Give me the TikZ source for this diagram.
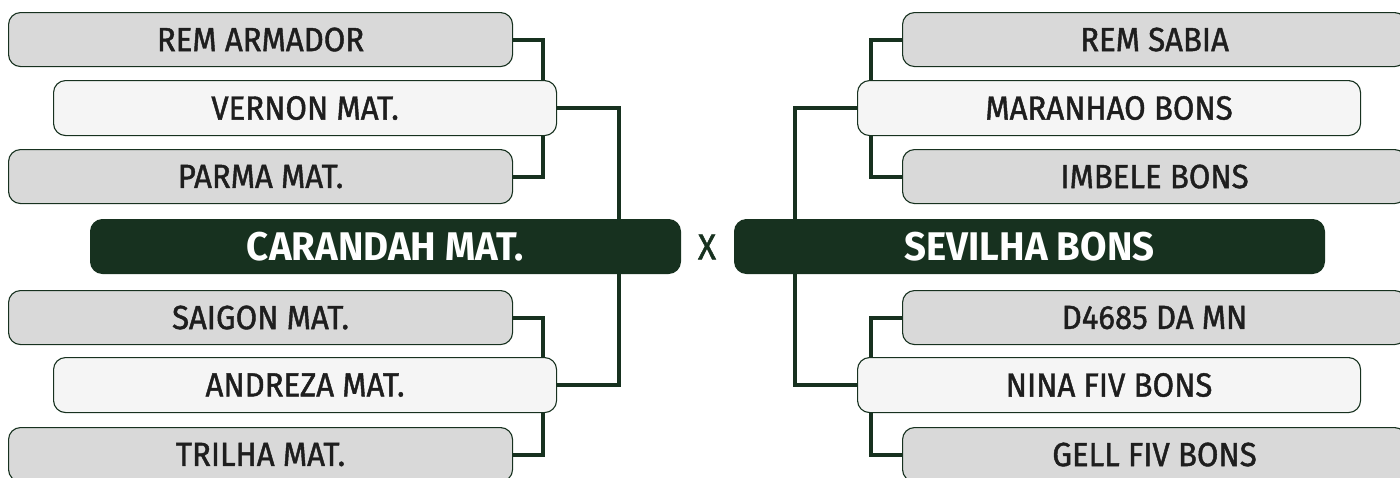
\documentclass[tikz,border=0pt]{standalone}
\usepackage{fontspec}
\setmainfont{Fira Sans}[FakeBold=1.3,FakeStretch=0.93]
\newfontfamily\boldff{Fira Sans}[FakeStretch=0.96]
\begin{document}
\definecolor{dg}{HTML}{17311F}
\definecolor{bgray}{HTML}{D9D9D9}
\definecolor{lgray}{HTML}{F5F5F5}
\definecolor{txt}{HTML}{1E1E1E}
\begin{tikzpicture}[x=1pt,y=-1pt,
  team/.style={draw=dg, line width=1.1pt, rounded corners=12pt, fill=bgray,
    minimum width=504pt, minimum height=54pt, anchor=north west, inner sep=0pt,
    text=txt, font=\fontsize{33.5}{34}\selectfont},
  semi/.style={team, fill=lgray, minimum width=503pt, minimum height=55pt},
  final/.style={draw=dg, line width=1pt, rounded corners=12pt, fill=dg, text=white,
    minimum width=590pt, minimum height=54pt, anchor=north west, inner sep=0pt,
    font=\boldff\bfseries\fontsize{40}{40}\selectfont},
  conn/.style={draw=dg, line width=4pt, line join=miter}]
\useasboundingbox (0,0) rectangle (1400,477);
\coordinate (jl1) at (543,0);
\coordinate (jl2) at (619,0);
\coordinate (jr1) at (871,0);
\coordinate (jr2) at (795,0);
% left nodes
\node[team] (ra) at (8,12) {REM ARMADOR};
\node[team] (pm) at (8,149) {PARMA MAT.};
\node[team] (sg) at (8,290) {SAIGON MAT.};
\node[team] (tr) at (8,427) {TRILHA MAT.};
% right nodes
\node[team] (rs) at (902,12) {REM SABIA};
\node[team] (ib) at (902,149) {IMBELE BONS};
\node[team] (d4) at (902,290) {D4685 DA MN};
\node[team] (gf) at (902,427) {GELL FIV BONS};
% connectors first round
\draw[conn] (ra.east) -| (jl1 |- 0,82);
\draw[conn] (pm.east) -| (jl1 |- 0,133);
\draw[conn] (sg.east) -| (jl1 |- 0,360);
\draw[conn] (tr.east) -| (jl1 |- 0,410);
\draw[conn] (rs.west) -| (jr1 |- 0,82);
\draw[conn] (ib.west) -| (jr1 |- 0,133);
\draw[conn] (d4.west) -| (jr1 |- 0,360);
\draw[conn] (gf.west) -| (jr1 |- 0,410);
% semifinal nodes
\node[semi] (vm) at (53,80) {VERNON MAT.};
\node[semi] (am) at (53,357) {ANDREZA MAT.};
\node[semi] (mb) at (857,80) {MARANHAO BONS};
\node[semi] (nf) at (857,357) {NINA FIV BONS};
% final nodes
\node[final] (cm) at (90,219) {CARANDAH MAT.};
\node[final] (sb) at (734,219) {SEVILHA BONS};
\node[text=dg, font=\fontsize{36}{36}\selectfont, inner sep=0pt] (x) at (707,247) {X};
% connectors second round
\draw[conn] (vm.east) -| (jl2 |- cm.north);
\draw[conn] (am.east) -| (jl2 |- cm.south);
\draw[conn] (mb.west) -| (jr2 |- sb.north);
\draw[conn] (nf.west) -| (jr2 |- sb.south);
\end{tikzpicture}
\end{document}
